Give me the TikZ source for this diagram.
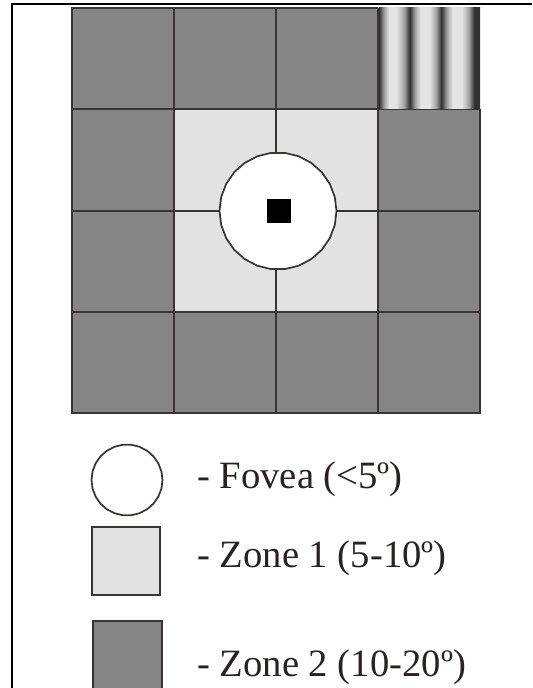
\documentclass[tikz,border=0pt]{standalone}
\usepackage{fontspec}
\usetikzlibrary{shapes.geometric}
\setmainfont{Liberation Serif}
\definecolor{zonetwo}{HTML}{858585}
\definecolor{zoneone}{HTML}{E2E2E2}
\definecolor{edgecol}{HTML}{3C3434}
\definecolor{gdark}{HTML}{303030}
\definecolor{gmid}{HTML}{A0A0A0}
\definecolor{glight}{HTML}{E4E4E4}
\definecolor{txtcol}{HTML}{2A2222}
\pgfdeclarehorizontalshading{grating}{100bp}{color(0bp)=(gdark); color(25bp)=(gdark); color(27.5bp)=(gmid); color(30bp)=(glight); color(33.6bp)=(glight); color(37.5bp)=(gmid); color(40.2bp)=(gdark); color(42.8bp)=(gmid); color(45.5bp)=(glight); color(50bp)=(glight); color(53.3bp)=(gmid); color(55.9bp)=(gdark); color(58.5bp)=(gmid); color(61.3bp)=(glight); color(66bp)=(glight); color(69.5bp)=(gmid); color(72.1bp)=(gdark); color(100bp)=(gdark)}
\tikzset{
  gridline/.style={draw=edgecol, line width=1.5pt},
  legtext/.style={anchor=base west, inner sep=0pt, text=txtcol, font=\fontsize{29}{34}\selectfont},
  legbox/.style={draw=edgecol, line width=1.3pt},
  wobbly/.style={regular polygon, regular polygon sides=26, draw=edgecol, line width=1.3pt, fill=white, inner sep=0pt},
}
\begin{document}
\begin{tikzpicture}[x=0.75pt, y=-0.75pt]
\useasboundingbox (0,0) rectangle (532,688);
% frame
\draw[line width=1.4pt, black] (12,688) -- (12,4) -- (532,4);
% zones
\fill[zonetwo] (72,8) rectangle (480,413);
\fill[zoneone] (174,109) rectangle (378,312);
% grid lines
\draw[gridline] (378,8) -- (72,8) -- (72,413) -- (480,413) -- (480,109);
\foreach \x in {174,276,378} \draw[gridline] (\x,8) -- (\x,413);
\foreach \y in {109,211,312} \draw[gridline] (72,\y) -- (480,\y);
% grating
\shade[shading=grating] (379,8) rectangle (480,108.5);
% fovea
\node[wobbly, minimum size=117*0.75pt] (fovea) at (278,211) {};
\node[fill=black, minimum size=24*0.75pt, inner sep=0pt] (fix) at (279,211) {};
% legend
\node[wobbly, minimum size=71*0.75pt] (lfov) at (127,480) {};
\node[legbox, fill=zoneone, minimum width=68*0.75pt, minimum height=68*0.75pt, inner sep=0pt] (lz1) at (126,561) {};
\node[legbox, fill=zonetwo, minimum width=69*0.75pt, minimum height=68*0.75pt, inner sep=0pt] (lz2) at (127.5,655) {};
\node[legtext] (tfov) at (197,488) {- Fovea (<5º)};
\node[legtext] (tz1) at (197,567) {- Zone 1 (5-10º)};
\node[legtext] (tz2) at (197,676) {- Zone 2 (10-20º)};
\end{tikzpicture}
\end{document}
